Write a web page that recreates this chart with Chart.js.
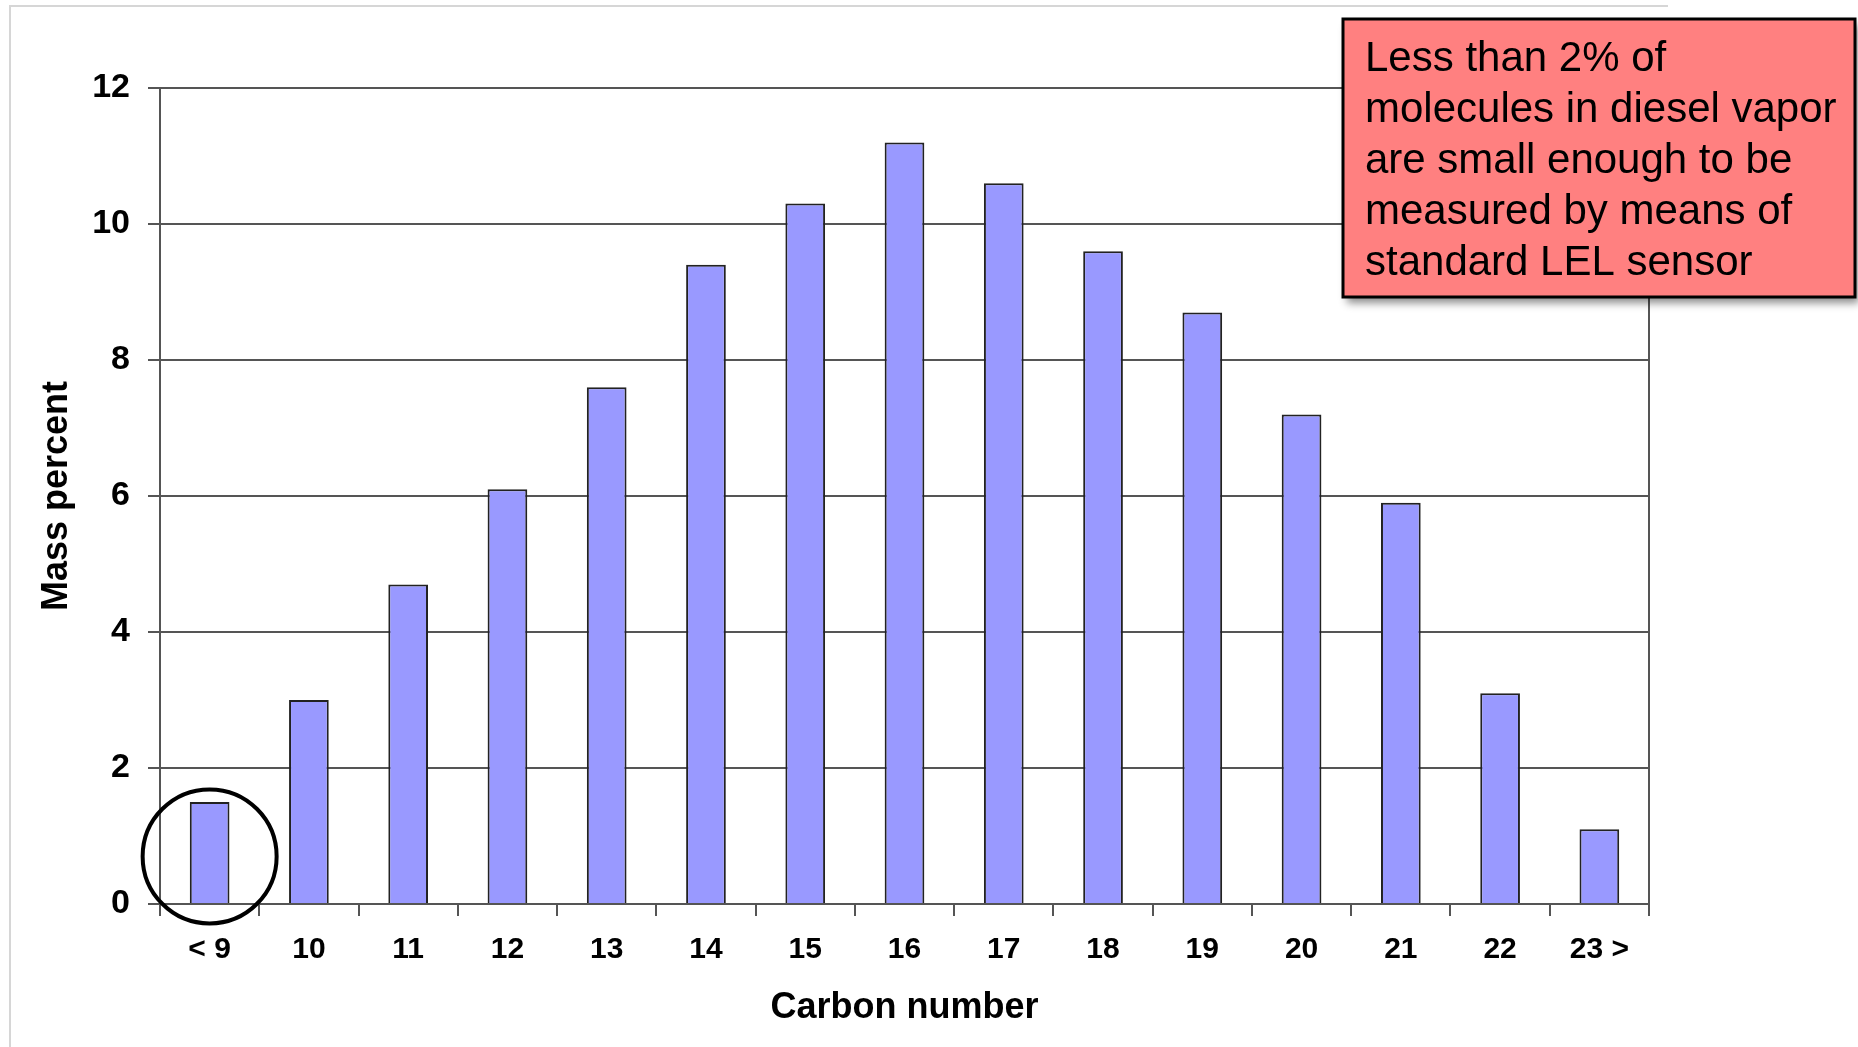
<!DOCTYPE html>
<html lang="en">
<head>
  <meta charset="UTF-8" />
  <title>Carbon number distribution</title>
  <script src="https://cdn.jsdelivr.net/npm/chart.js"></script>
  <style>
    * {
      margin: 0;
      padding: 0;
      box-sizing: border-box;
    }

    body {
      background: #fff;
      width: 1858px;
      height: 1047px;
      overflow: hidden;
    }

    canvas {
      display: block;
    }
  </style>
</head>
<body>
  <canvas id="massChart" width="1858" height="1047"></canvas>

  <script>
    // data
    const categories = ['< 9', '10', '11', '12', '13', '14', '15', '16', '17', '18', '19', '20', '21', '22', '23 >'];
    const massPercent = [1.5, 3.0, 4.7, 6.1, 7.6, 9.4, 10.3, 11.2, 10.6, 9.6, 8.7, 7.2, 5.9, 3.1, 1.1];
    const yTicks = [0, 2, 4, 6, 8, 10, 12];
    const noteLines = [
      'Less than 2% of',
      'molecules in diesel vapor',
      'are small enough to be',
      'measured by means of',
      'standard LEL sensor'
    ];

    const FONT = '"Liberation Sans", Arial, Helvetica, sans-serif';
    const GRID = '#555555';

    // light frame, right border of the plot, circle around first bar, red note
    const extras = {
      id: 'extras',
      beforeDraw(chart) {
        const c = chart.ctx;
        c.save();
        c.strokeStyle = '#d6d6d6';
        c.lineWidth = 2;
        c.beginPath();
        c.moveTo(10, 1047);
        c.lineTo(10, 6);
        c.lineTo(1668, 6);
        c.stroke();
        c.restore();
      },
      afterDraw(chart) {
        const c = chart.ctx;
        const a = chart.chartArea;
        const xs = chart.scales.x;
        const ys = chart.scales.y;

        c.save();
        c.strokeStyle = GRID;
        c.lineWidth = 2;
        c.beginPath();
        c.moveTo(a.right, a.top);
        c.lineTo(a.right, a.bottom);
        c.stroke();

        // circle on the "< 9" bar
        c.strokeStyle = '#000';
        c.lineWidth = 4;
        c.beginPath();
        c.arc(xs.getPixelForValue(0), ys.getPixelForValue(0.7), 67, 0, Math.PI * 2);
        c.stroke();

        // note box
        const bx = 1343, by = 19, bw = 512, bh = 278;
        c.shadowColor = 'rgba(0,0,0,0.45)';
        c.shadowBlur = 8;
        c.shadowOffsetX = 4;
        c.shadowOffsetY = 6;
        c.fillStyle = '#ff8080';
        c.fillRect(bx, by, bw, bh);
        c.shadowColor = 'transparent';
        c.strokeStyle = '#000';
        c.lineWidth = 3;
        c.strokeRect(bx, by, bw, bh);

        c.fillStyle = '#000';
        c.font = '42px ' + FONT;
        c.textBaseline = 'alphabetic';
        c.textAlign = 'left';
        noteLines.forEach((line, i) => {
          c.fillText(line, 1365, 71 + i * 51);
        });
        c.restore();
      }
    };

    const ctx = document.getElementById('massChart').getContext('2d');
    const massChart = new Chart(ctx, {
      type: 'bar',
      data: {
        labels: categories,
        datasets: [{
          label: 'Mass percent',
          data: massPercent,
          backgroundColor: '#9999ff',
          borderColor: '#222',
          borderWidth: 2,
          borderSkipped: 'bottom',
          categoryPercentage: 1,
          barPercentage: 0.4
        }]
      },
      options: {
        responsive: false,
        animation: false,
        layout: {
          padding: { left: 0, top: 88, right: 209, bottom: 0 }
        },
        plugins: {
          legend: { display: false },
          tooltip: { enabled: false }
        },
        scales: {
          x: {
            afterFit(scale) { scale.height = 143; },
            grid: {
              offset: true,
              drawOnChartArea: false,
              color: GRID,
              lineWidth: 2,
              tickLength: 12
            },
            border: { color: GRID, width: 2 },
            ticks: {
              color: '#000',
              padding: 16,
              font: { family: FONT, size: 30, weight: 'bold' }
            },
            title: {
              display: true,
              text: 'Carbon number',
              color: '#000',
              padding: { top: 0, bottom: 17 },
              font: { family: FONT, size: 36, weight: 'bold' }
            }
          },
          y: {
            min: 0,
            max: 12,
            afterFit(scale) { scale.width = 160; },
            afterBuildTicks(scale) {
              scale.ticks = yTicks.map(v => ({ value: v }));
            },
            grid: {
              color: GRID,
              lineWidth: 2,
              tickLength: 12
            },
            border: { color: GRID, width: 2 },
            ticks: {
              color: '#000',
              padding: 18,
              font: { family: FONT, size: 34, weight: 'bold' }
            },
            title: {
              display: true,
              text: 'Mass percent',
              color: '#000',
              padding: { top: 35, bottom: 0 },
              font: { family: FONT, size: 36, weight: 'bold' }
            }
          }
        }
      },
      plugins: [extras]
    });
  </script>
</body>
</html>
